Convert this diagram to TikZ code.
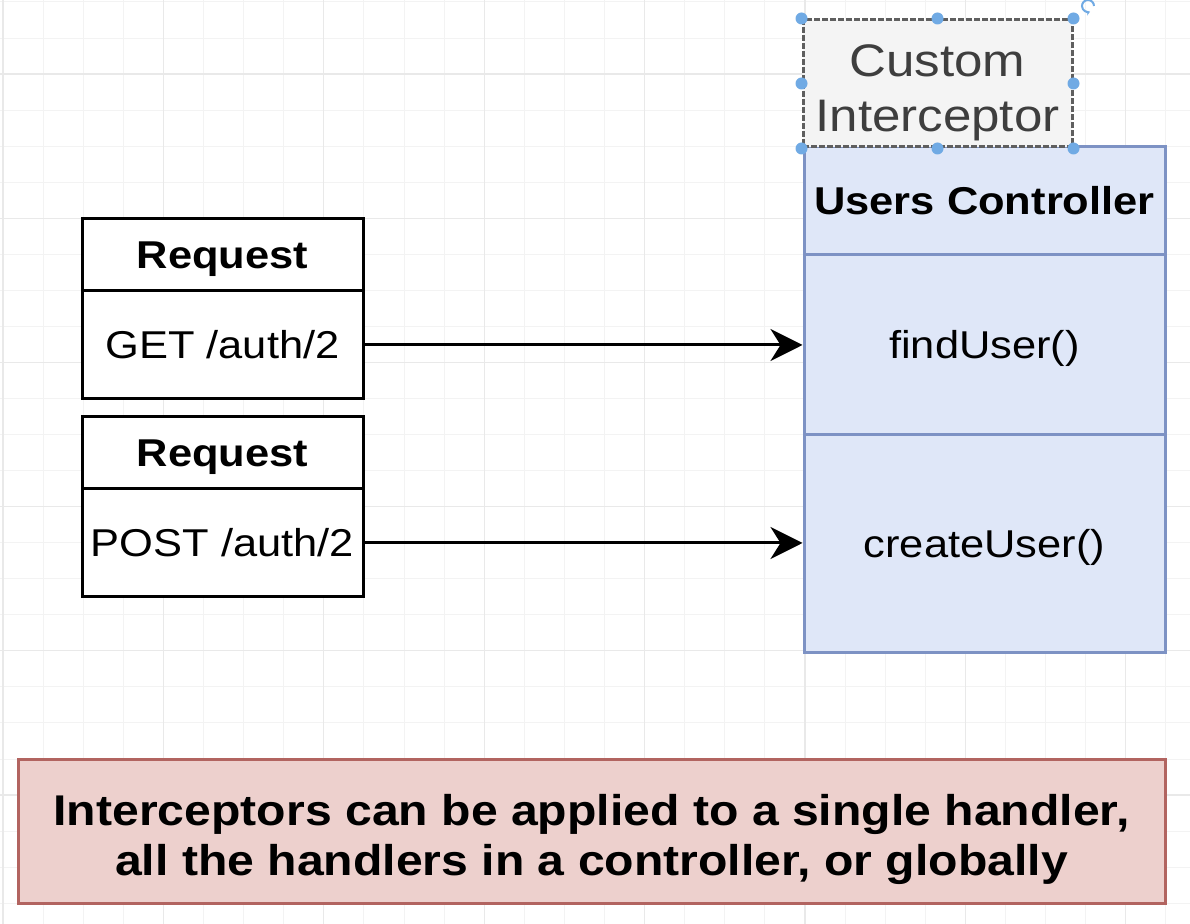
\documentclass[tikz,border=0pt]{standalone}
\usepackage{fontspec}
\setmainfont{Liberation Sans}[FakeStretch=1.12]
\usepackage{xcolor}
\usepackage{tikz}
\usetikzlibrary{arrows.meta}
\definecolor{gridminor}{RGB}{243,243,243}
\definecolor{gridmajor}{RGB}{233,233,233}
\definecolor{ctrlfill}{RGB}{223,231,248}
\definecolor{ctrlline}{RGB}{125,146,196}
\definecolor{notefill}{RGB}{237,208,205}
\definecolor{noteline}{RGB}{178,100,96}
\definecolor{custfill}{RGB}{244,244,244}
\definecolor{custline}{RGB}{95,95,95}
\definecolor{custtextgray}{RGB}{62,62,62}
\definecolor{handleblue}{RGB}{112,170,228}
\newcommand{\boxfont}{\fontsize{19.4}{23}\selectfont}
\newcommand{\notefont}{\fontsize{21.5}{25}\selectfont\bfseries}
\newcommand{\custfont}{\fontsize{22.8}{27.5}\selectfont}

\begin{document}
\begin{tikzpicture}[x=0.5pt, y=-0.5pt,
    gridline/.style={draw=gridminor, line width=0.5pt},
    gridbold/.style={draw=gridmajor, line width=0.6pt},
    reqhead/.style={draw=black, fill=white, line width=1.5pt, inner sep=0pt,
        minimum width=140.5pt, minimum height=36pt,
        font=\boxfont\bfseries, text height=13.8pt, text depth=0pt},
    reqbody/.style={reqhead, minimum height=54pt, font=\boxfont},
    ctrlpart/.style={draw=ctrlline, fill=ctrlfill, line width=1.5pt, inner sep=0pt,
        minimum width=180.5pt, font=\boxfont, text height=13.8pt, text depth=0pt},
    custbox/.style={draw=custline, fill=custfill, line width=1.5pt,
        dash pattern=on 3pt off 1pt, inner sep=0pt,
        minimum width=134.5pt, minimum height=63.5pt},
    custtext/.style={text=custtextgray, font=\custfont, align=center, inner sep=0pt},
    notebox/.style={draw=noteline, fill=notefill, line width=1.5pt, inner sep=0pt,
        minimum width=573.5pt, minimum height=72pt},
    notetext/.style={font=\notefont, align=center, inner sep=0pt},
    flow/.style={line width=1.5pt, -{Stealth[length=16pt, width=16pt, inset=5pt]}},
    handle/.style={fill=handleblue}
]
    \useasboundingbox (0,0) rectangle (1190,924);
    \fill[white] (0,0) rectangle (1190,924);

    % Background grid
    \foreach \i in {0,...,29} \draw[gridline] ({3+40.1*\i},0) -- ({3+40.1*\i},924);
    \foreach \j in {0,...,25} \draw[gridline] (0,{2+36.05*\j}) -- (1190,{2+36.05*\j});
    \foreach \i in {0,...,7} \draw[gridbold] ({3+160.4*\i},0) -- ({3+160.4*\i},924);
    \foreach \j in {0,...,5} \draw[gridbold] (0,{74+144.2*\j}) -- (1190,{74+144.2*\j});

    % Requests
    \node[reqhead] (reqA) at (222.5,255) {Request};
    \node[reqbody] (reqAbody) at (222.5,345) {GET /auth/2};
    \node[reqhead] (reqB) at (222.5,453) {Request};
    \node[reqbody] (reqBbody) at (222.5,543) {POST /auth/2};

    % Users controller
    \node[ctrlpart, minimum height=54pt, font=\boxfont\bfseries] (ctrl) at (984.5,201) {Users Controller};
    \node[ctrlpart, minimum height=90pt] (findU) at (984.5,345) {findUser()};
    \node[ctrlpart, minimum height=109pt] (createU) at (984.5,544) {createUser()};

    % Custom interceptor (selected)
    \node[custbox] (custom) at (937.5,83.5) {};
    \node[custtext] (custText) at ([yshift=-4.6pt]custom.center) {Custom\\Interceptor};
    \foreach \a in {north west, north, north east, west, east, south west, south, south east}
        \fill[handle] (custom.\a) circle[radius=3pt];
    \coordinate (rot) at (1088,6);
    \draw[handleblue, line width=1pt, -{Stealth[length=2pt, width=2.6pt]}]
        (rot) ++(3pt,0) arc[start angle=0, end angle=290, radius=3pt];

    % Requests to handlers
    \draw[flow] (reqAbody.east) -- (findU.west);
    \draw[flow] (reqBbody.east) -- (reqBbody.east -| createU.west);

    % Note
    \node[notebox] (note) at (591.5,832) {};
    \node[notetext] (noteText) at ([yshift=-3.5pt]note.center)
        {Interceptors can be applied to a single handler,\\all the handlers in a controller, or globally};
\end{tikzpicture}
\end{document}
